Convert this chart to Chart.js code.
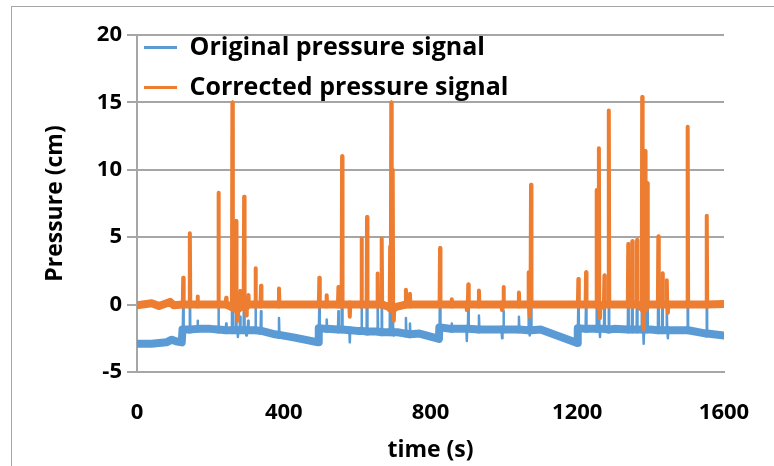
<!DOCTYPE html>
<html>
<head>
<meta charset="utf-8">
<script src="https://cdn.jsdelivr.net/npm/chart.js@4"></script>
<style>
  html, body { margin: 0; padding: 0; background: #fff; }
  canvas { display: block; }
</style>
</head>
<body>
<canvas id="pressureChart" width="774" height="466"></canvas>
<script>
// slow baseline of each recording (time s, pressure cm)
const originalDriftTimes  = [0, 40, 80, 95, 110, 122, 124, 200, 250, 335, 376, 430, 494, 495, 600, 710, 770, 823, 824, 900, 1000, 1100, 1200, 1201, 1300, 1400, 1490, 1600];
const originalDriftValues = [-2.9, -2.9, -2.8, -2.6, -2.75, -2.8, -1.85, -1.8, -1.9, -1.95, -2.2, -2.45, -2.8, -1.75, -1.95, -2.05, -2.15, -2.55, -1.7, -1.8, -1.85, -1.85, -2.85, -1.75, -1.8, -1.85, -1.9, -2.3];

const correctedDriftTimes  = [0, 40, 60, 90, 100, 400, 800, 1200, 1600];
const correctedDriftValues = [-0.05, 0.1, -0.1, 0.2, -0.05, 0.0, 0.0, 0.0, 0.05];

// short events (coughs, movements) seen in both signals
const spikeTimes = [126, 144, 165, 222, 243, 260, 270, 275, 281, 292,
  298, 303, 323, 338, 387, 497, 517, 549, 559, 580,
  612, 627, 656, 667, 690, 693, 697, 700, 733, 744,
  826, 858, 899, 903, 932, 995, 999, 1041, 1067, 1070,
  1074, 1203, 1224, 1253, 1259, 1262, 1274, 1286, 1339, 1350,
  1363, 1377, 1381, 1385, 1391, 1421, 1432, 1444, 1447, 1501,
  1553];

const correctedPeaks = [2.0, 5.3, 0.6, 8.3, 0.5, 15.0, 6.2, -1.2, 1.0, 8.0,
  -0.8, 0.7, 2.7, 1.4, 1.2, 2.0, 0.7, 1.3, 11.0, -0.9,
  4.9, 6.5, 2.3, 4.9, 4.3, 15.0, 10.0, -1.2, 1.1, 0.8,
  4.2, 0.4, -0.4, 1.5, 1.05, -0.4, 1.3, 0.9, 2.4, -0.9,
  8.9, 1.9, 2.4, 8.5, 11.6, -1.0, 2.15, 14.4, 4.5, 4.7,
  4.8, 15.4, -1.8, 11.4, 9.0, 5.05, 2.3, 1.8, -0.6, 13.2,
  6.6];
const correctedFeet = [0.0, 0.0, 0.0, 0.0, 0.0, -0.2, -0.3, -0.3, -0.2, -0.1,
  -0.1, 0.0, 0.0, 0.0, 0.0, 0.0, 0.0, 0.0, 0.0, 0.0,
  0.0, 0.0, 0.0, 0.0, -0.2, -0.3, -0.3, -0.2, 0.0, 0.0,
  0.0, 0.0, 0.0, 0.0, 0.0, 0.0, 0.0, 0.0, 0.0, 0.0,
  0.0, 0.0, 0.0, 0.0, -0.1, -0.1, 0.0, 0.0, 0.0, 0.0,
  0.0, -0.2, -0.3, -0.2, 0.0, 0.0, 0.0, 0.0, 0.0, 0.0,
  0.0];

const originalPeaks = [0.1, 3.4, -1.2, 6.4, -1.4, 13.1, 4.3, -2.4, -0.9, 6.1,
  -2.3, -1.2, 0.8, -0.5, -1.0, 0.2, -1.1, -0.5, 9.1, -2.8,
  2.9, 4.5, 0.3, 2.9, 2.3, 13.0, 8.0, -2.3, -1.0, -1.4,
  2.5, -1.4, -2.7, -0.3, -0.8, -2.5, -0.5, -0.9, 0.5, -2.3,
  7.0, 0.2, 0.6, 6.7, 9.8, -2.4, 0.3, 12.5, 2.6, 2.8,
  2.9, 13.5, -2.9, 9.5, 7.1, 3.1, 0.4, -0.1, -2.5, 11.3,
  4.4];
const originalFeet = [-1.85, -1.85, -1.8, -1.85, -1.9, -1.9, -1.9, -1.9, -1.9, -1.9,
  -1.9, -1.9, -1.9, -1.95, -2.25, -1.75, -1.8, -1.85, -1.85, -1.9,
  -1.95, -2.0, -2.0, -2.05, -2.05, -2.05, -2.05, -2.05, -2.15, -2.2,
  -1.7, -1.8, -1.8, -1.8, -1.85, -1.85, -1.85, -1.85, -1.9, -1.9,
  -1.9, -1.75, -1.8, -1.8, -1.8, -1.8, -1.8, -1.85, -1.85, -1.85,
  -1.85, -1.85, -1.85, -1.85, -1.85, -1.9, -1.9, -1.9, -1.9, -1.9,
  -2.15];

const xTicks = { min: 0, max: 1600, step: 400 };
const yTicks = { min: -5, max: 20, step: 5 };

const SPIKE_HALF = 1.2;
const FONT = '"Open Sans", Lato, sans-serif';
const GRID = '#a6a6a6';

function buildSeries(driftTimes, driftValues, peaks, feet) {
  const pts = [];
  driftTimes.forEach((t, i) => pts.push({ x: t, y: driftValues[i], peak: false }));
  spikeTimes.forEach((t, i) => {
    pts.push({ x: t - SPIKE_HALF, y: feet[i], peak: false });
    pts.push({ x: t, y: peaks[i], peak: true });
    pts.push({ x: t + SPIKE_HALF, y: feet[i], peak: false });
  });
  pts.sort((a, b) => a.x - b.x);
  return pts;
}

const originalData = buildSeries(originalDriftTimes, originalDriftValues, originalPeaks, originalFeet);
const correctedData = buildSeries(correctedDriftTimes, correctedDriftValues, correctedPeaks, correctedFeet);

// noisy baseline drawn as a wide band, spikes as thinner strokes
function segWidth(data, spikeWidth) {
  return ctx => (data[ctx.p0DataIndex].peak || data[ctx.p1DataIndex].peak) ? spikeWidth : 8;
}

const frame = {
  id: 'frame',
  beforeDraw(chart) {
    const c = chart.ctx;
    c.save();
    c.fillStyle = '#fff';
    c.fillRect(0, 0, chart.width, chart.height);
    c.strokeStyle = GRID;
    c.lineWidth = 1;
    c.strokeRect(11.5, 6.5, chart.width + 10, chart.height + 10);
    c.restore();
  },
  // pull the legend a little closer to the y axis
  afterLayout(chart) {
    if (chart.legend) chart.legend.left -= 8;
  }
};

const tickFont = { family: FONT, size: 22, weight: 'bold' };
const titleFont = { family: FONT, size: 23, weight: 'bold' };
const legendFont = { family: FONT, size: 25, weight: 'bold' };

new Chart(document.getElementById('pressureChart'), {
  type: 'line',
  data: {
    datasets: [
      {
        label: 'Original pressure signal',
        data: originalData,
        borderColor: '#5b9bd5',
        backgroundColor: '#5b9bd5',
        borderWidth: 3,
        borderJoinStyle: 'round',
        borderCapStyle: 'round',
        pointRadius: 0,
        tension: 0,
        order: 1,
        segment: { borderWidth: segWidth(originalData, 2.5) }
      },
      {
        label: 'Corrected pressure signal',
        data: correctedData,
        borderColor: '#ed7d31',
        backgroundColor: '#ed7d31',
        borderWidth: 3,
        borderJoinStyle: 'round',
        borderCapStyle: 'round',
        pointRadius: 0,
        tension: 0,
        order: 0,
        segment: { borderWidth: segWidth(correctedData, 4) }
      }
    ]
  },
  options: {
    responsive: false,
    animation: false,
    devicePixelRatio: 1,
    layout: { padding: { left: 0, right: 50, top: 35, bottom: 0 } },
    plugins: {
      tooltip: { enabled: false },
      legend: {
        position: 'chartArea',
        align: 'start',
        title: { display: true, text: '', font: { size: 10 }, padding: { top: 8, bottom: 0 } },
        labels: {
          sort: (a, b) => a.datasetIndex - b.datasetIndex,
          usePointStyle: true,
          pointStyle: 'line',
          pointStyleWidth: 33,
          color: '#000',
          padding: 15,
          font: legendFont
        }
      }
    },
    scales: {
      x: {
        type: 'linear',
        min: xTicks.min,
        max: xTicks.max,
        afterFit: scale => { scale.height = 94; },
        grid: { display: false },
        border: { display: true, color: GRID, width: 2 },
        ticks: {
          stepSize: xTicks.step,
          padding: 20,
          color: '#000',
          maxRotation: 0,
          font: tickFont,
          callback: v => String(v)
        },
        title: {
          display: true,
          text: 'time (s)',
          color: '#000',
          font: titleFont,
          padding: { top: 0, bottom: 2 }
        }
      },
      y: {
        min: yTicks.min,
        max: yTicks.max,
        afterFit: scale => { scale.width = 137; },
        grid: { color: GRID, lineWidth: 2, tickLength: 10, drawTicks: true },
        border: { display: true, color: GRID, width: 2 },
        ticks: {
          stepSize: yTicks.step,
          padding: 5,
          color: '#000',
          font: tickFont,
          callback: v => String(v)
        },
        title: {
          display: true,
          text: 'Pressure (cm)',
          color: '#000',
          font: titleFont,
          padding: { top: 42, bottom: 0 }
        }
      }
    }
  },
  plugins: [frame]
});
</script>
</body>
</html>
